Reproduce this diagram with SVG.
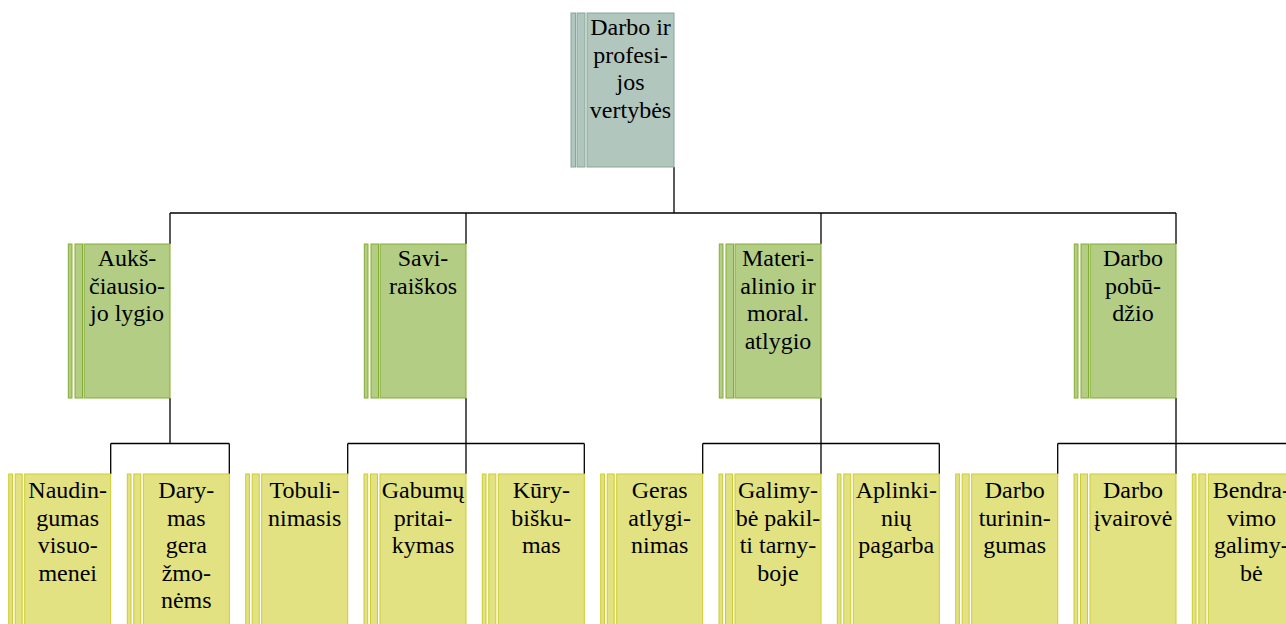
<svg xmlns="http://www.w3.org/2000/svg" width="1286" height="624" viewBox="0 0 1286 624">
<style>
.t{font-family:"Liberation Serif","Times New Roman",serif;font-size:24px;fill:#000;text-anchor:middle}
.r{fill:#b1c6bd;stroke:#84a899;stroke-width:1}
.g{fill:#b3cd85;stroke:#85ad33;stroke-width:1}
.y{fill:#e2e282;stroke:#cccc30;stroke-width:1}
.c{fill:none;stroke:#000;stroke-width:1.3}
</style>
<rect width="1286" height="624" fill="#fff"/>
<g id="connectors">
<path class="c" d="M674 167V213M170 213H1176M170 213V244M466 213V244M821 213V244M1176 213V244"/>
<path class="c" d="M170 398V443.5M110.7 443.5H229.3M110.7 443.5V474M229.3 443.5V474"/>
<path class="c" d="M466 398V443.5M347.7 443.5H584.3M347.7 443.5V474M466 443.5V474M584.3 443.5V474"/>
<path class="c" d="M821 398V443.5M702.7 443.5H939.3M702.7 443.5V474M821 443.5V474M939.3 443.5V474"/>
<path class="c" d="M1176 398V443.5M1057.7 443.5H1294.3M1057.7 443.5V474M1176 443.5V474M1294.3 443.5V474"/>
</g>
<g id="root">
<rect class="r" x="571" y="13" width="4.5" height="154"/>
<rect class="r" x="577" y="13" width="8" height="154"/>
<rect class="r" x="587" y="13" width="87" height="154"/>
<text class="t" x="630.5" y="35"><tspan x="630.5">Darbo ir</tspan><tspan x="630.5" dy="27.5">profesi-</tspan><tspan x="630.5" dy="27.5">jos</tspan><tspan x="630.5" dy="27.5">vertybės</tspan></text>
</g>
<g id="n-auksciausiojo">
<rect class="g" x="68.3" y="244" width="3.7" height="154"/>
<rect class="g" x="75" y="244" width="7.5" height="154"/>
<rect class="g" x="84" y="244" width="86" height="154"/>
<text class="t" x="127" y="266"><tspan x="127">Aukš-</tspan><tspan x="127" dy="27.5">čiausio-</tspan><tspan x="127" dy="27.5">jo lygio</tspan></text>
</g>
<g id="n-saviraiskos">
<rect class="g" x="364.3" y="244" width="3.7" height="154"/>
<rect class="g" x="371" y="244" width="7.5" height="154"/>
<rect class="g" x="380" y="244" width="86" height="154"/>
<text class="t" x="423" y="266"><tspan x="423">Savi-</tspan><tspan x="423" dy="27.5">raiškos</tspan></text>
</g>
<g id="n-materialinio">
<rect class="g" x="719.3" y="244" width="3.7" height="154"/>
<rect class="g" x="726" y="244" width="7.5" height="154"/>
<rect class="g" x="735" y="244" width="86" height="154"/>
<text class="t" x="778" y="266"><tspan x="778">Materi-</tspan><tspan x="778" dy="27.5">alinio ir</tspan><tspan x="778" dy="27.5">moral.</tspan><tspan x="778" dy="27.5">atlygio</tspan></text>
</g>
<g id="n-darbo-pobudzio">
<rect class="g" x="1074.3" y="244" width="3.7" height="154"/>
<rect class="g" x="1081" y="244" width="7.5" height="154"/>
<rect class="g" x="1090" y="244" width="86" height="154"/>
<text class="t" x="1133" y="266"><tspan x="1133">Darbo</tspan><tspan x="1133" dy="27.5">pobū-</tspan><tspan x="1133" dy="27.5">džio</tspan></text>
</g>
<g id="n-naudingumas">
<rect class="y" x="8.7" y="474" width="3.7" height="154"/>
<rect class="y" x="15.2" y="474" width="7" height="154"/>
<rect class="y" x="24.7" y="474" width="86" height="154"/>
<text class="t" x="67.7" y="498"><tspan x="67.7">Naudin-</tspan><tspan x="67.7" dy="27.5">gumas</tspan><tspan x="67.7" dy="27.5">visuo-</tspan><tspan x="67.7" dy="27.5">menei</tspan></text>
</g>
<g id="n-darymas">
<rect class="y" x="127.3" y="474" width="3.7" height="154"/>
<rect class="y" x="133.8" y="474" width="7" height="154"/>
<rect class="y" x="143.3" y="474" width="86" height="154"/>
<text class="t" x="186.3" y="498"><tspan x="186.3">Dary-</tspan><tspan x="186.3" dy="27.5">mas</tspan><tspan x="186.3" dy="27.5">gera</tspan><tspan x="186.3" dy="27.5">žmo-</tspan><tspan x="186.3" dy="27.5">nėms</tspan></text>
</g>
<g id="n-tobulinimasis">
<rect class="y" x="245.7" y="474" width="3.7" height="154"/>
<rect class="y" x="252.2" y="474" width="7" height="154"/>
<rect class="y" x="261.7" y="474" width="86" height="154"/>
<text class="t" x="304.7" y="498"><tspan x="304.7">Tobuli-</tspan><tspan x="304.7" dy="27.5">nimasis</tspan></text>
</g>
<g id="n-gabumu">
<rect class="y" x="364" y="474" width="3.7" height="154"/>
<rect class="y" x="370.5" y="474" width="7" height="154"/>
<rect class="y" x="380" y="474" width="86" height="154"/>
<text class="t" x="423" y="498"><tspan x="423">Gabumų</tspan><tspan x="423" dy="27.5">pritai-</tspan><tspan x="423" dy="27.5">kymas</tspan></text>
</g>
<g id="n-kurybiskumas">
<rect class="y" x="482.3" y="474" width="3.7" height="154"/>
<rect class="y" x="488.8" y="474" width="7" height="154"/>
<rect class="y" x="498.3" y="474" width="86" height="154"/>
<text class="t" x="541.3" y="498"><tspan x="541.3">Kūry-</tspan><tspan x="541.3" dy="27.5">bišku-</tspan><tspan x="541.3" dy="27.5">mas</tspan></text>
</g>
<g id="n-geras">
<rect class="y" x="600.7" y="474" width="3.7" height="154"/>
<rect class="y" x="607.2" y="474" width="7" height="154"/>
<rect class="y" x="616.7" y="474" width="86" height="154"/>
<text class="t" x="659.7" y="498"><tspan x="659.7">Geras</tspan><tspan x="659.7" dy="27.5">atlygi-</tspan><tspan x="659.7" dy="27.5">nimas</tspan></text>
</g>
<g id="n-galimybe-pakilti">
<rect class="y" x="719" y="474" width="3.7" height="154"/>
<rect class="y" x="725.5" y="474" width="7" height="154"/>
<rect class="y" x="735" y="474" width="86" height="154"/>
<text class="t" x="778" y="498"><tspan x="778">Galimy-</tspan><tspan x="778" dy="27.5">bė pakil-</tspan><tspan x="778" dy="27.5">ti tarny-</tspan><tspan x="778" dy="27.5">boje</tspan></text>
</g>
<g id="n-aplinkiniu">
<rect class="y" x="837.3" y="474" width="3.7" height="154"/>
<rect class="y" x="843.8" y="474" width="7" height="154"/>
<rect class="y" x="853.3" y="474" width="86" height="154"/>
<text class="t" x="896.3" y="498"><tspan x="896.3">Aplinki-</tspan><tspan x="896.3" dy="27.5">nių</tspan><tspan x="896.3" dy="27.5">pagarba</tspan></text>
</g>
<g id="n-turiningumas">
<rect class="y" x="955.7" y="474" width="3.7" height="154"/>
<rect class="y" x="962.2" y="474" width="7" height="154"/>
<rect class="y" x="971.7" y="474" width="86" height="154"/>
<text class="t" x="1014.7" y="498"><tspan x="1014.7">Darbo</tspan><tspan x="1014.7" dy="27.5">turinin-</tspan><tspan x="1014.7" dy="27.5">gumas</tspan></text>
</g>
<g id="n-ivairove">
<rect class="y" x="1074" y="474" width="3.7" height="154"/>
<rect class="y" x="1080.5" y="474" width="7" height="154"/>
<rect class="y" x="1090" y="474" width="86" height="154"/>
<text class="t" x="1133" y="498"><tspan x="1133">Darbo</tspan><tspan x="1133" dy="27.5">įvairovė</tspan></text>
</g>
<g id="n-bendravimo">
<rect class="y" x="1192.3" y="474" width="3.7" height="154"/>
<rect class="y" x="1198.8" y="474" width="7" height="154"/>
<rect class="y" x="1208.3" y="474" width="86" height="154"/>
<text class="t" x="1251.3" y="498"><tspan x="1251.3">Bendra-</tspan><tspan x="1251.3" dy="27.5">vimo</tspan><tspan x="1251.3" dy="27.5">galimy-</tspan><tspan x="1251.3" dy="27.5">bė</tspan></text>
</g>
</svg>
